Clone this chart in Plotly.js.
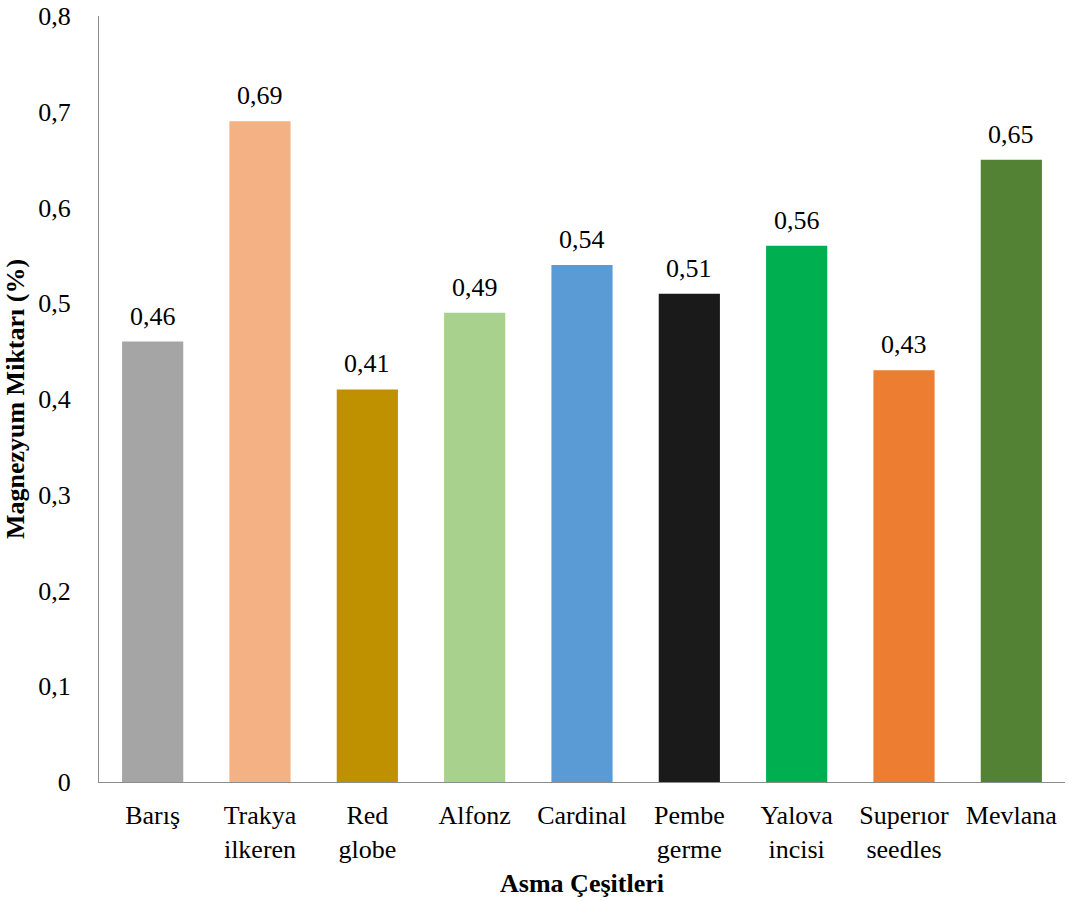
<!DOCTYPE html>
<html><head><meta charset="utf-8">
<script src="https://cdn.plot.ly/plotly-3.0.1.min.js"></script>
<style>body{margin:0;background:#fff}#c{width:1068px;height:901px}</style>
</head><body><div id="c"></div>
<script>
const categories = ["Barış", "Trakya<br>ilkeren", "Red<br>globe", "Alfonz", "Cardinal", "Pembe<br>germe", "Yalova<br>incisi", "Superıor<br>seedles", "Mevlana"];
const values = [0.46, 0.69, 0.41, 0.49, 0.54, 0.51, 0.56, 0.43, 0.65];
const valueLabels = ["0,46", "0,69", "0,41", "0,49", "0,54", "0,51", "0,56", "0,43", "0,65"];
const colors = ["#A5A5A5", "#F4B183", "#BF9000", "#A9D18E", "#5B9BD5", "#1A1A1A", "#00B050", "#ED7D31", "#548235"];
const yTickVals = [0, 0.1, 0.2, 0.3, 0.4, 0.5, 0.6, 0.7, 0.8];
const yTickText = ["0", "0,1", "0,2", "0,3", "0,4", "0,5", "0,6", "0,7", "0,8"];

const font = "Liberation Serif";
const annotations = categories.map((c, i) => ({
  x: c, y: values[i], text: valueLabels[i], showarrow: false,
  xanchor: 'center', yanchor: 'bottom', yshift: 9,
  font: {family: font, size: 26, color: '#000'}
}));
Plotly.newPlot('c', [{
  type: 'bar', x: categories, y: values,
  marker: {color: colors}, width: 0.57, hoverinfo: 'none'
}], {
  width: 1068, height: 901,
  margin: {l: 99, r: 3, t: 16, b: 119},
  paper_bgcolor: '#fff', plot_bgcolor: '#fff',
  font: {family: font, size: 26, color: '#000'},
  showlegend: false,
  annotations: annotations,
  xaxis: {
    showline: true, linecolor: '#8C8C8C', linewidth: 1, ticks: '',
    ticklabelstandoff: 10,
    tickfont: {family: font, size: 26, color: '#000'},
    title: {text: '<b>Asma Çeşitleri</b>', font: {family: font, size: 26, color: '#000'}, standoff: 10}
  },
  yaxis: {
    range: [0, 0.8], tickvals: yTickVals, ticktext: yTickText,
    showgrid: false, zeroline: false, showline: true, linecolor: '#8C8C8C', linewidth: 1, ticks: '',
    ticklabelstandoff: 22,
    tickfont: {family: font, size: 26, color: '#000'},
    title: {text: '<b>Magnezyum Miktarı (%)</b>', font: {family: font, size: 26, color: '#000'}, standoff: 6}
  }
}, {displayModeBar: false, staticPlot: true});
</script></body></html>
